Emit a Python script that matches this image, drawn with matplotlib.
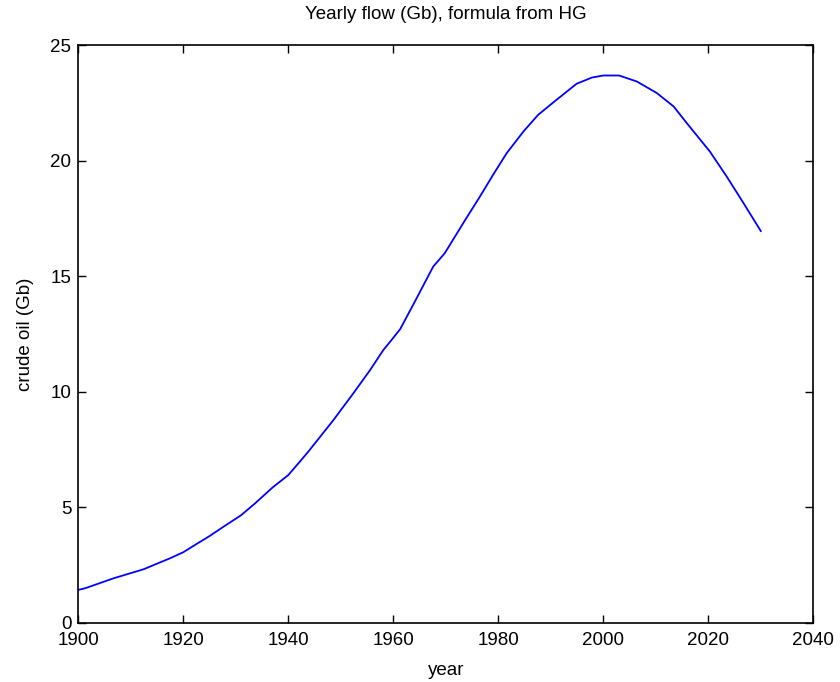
import matplotlib
matplotlib.use("Agg")
import matplotlib.pyplot as plt

years = [1900, 1901.3, 1906.7, 1912.4, 1917.5, 1920, 1922.2, 1925, 1927.9, 1931,
         1933.7, 1937, 1940, 1942.2, 1943.8, 1948.6, 1950, 1952.4, 1955.6, 1958.1,
         1959.4, 1961.3, 1964.0, 1967.6, 1969.8, 1973.7, 1976.5, 1979.0, 1981.6, 1984.8,
         1987.6, 1991.1, 1994.9, 1997.8, 2000, 2003, 2006.4, 2010.2, 2013.4,
         2015.9, 2020.3, 2023.5, 2026.7, 2030]
flow = [1.42, 1.49, 1.92, 2.31, 2.79, 3.05, 3.36, 3.75, 4.19, 4.65,
        5.17, 5.85, 6.39, 6.97, 7.40, 8.77, 9.20, 9.93, 10.94, 11.80,
        12.16, 12.70, 13.85, 15.41, 15.99, 17.43, 18.44, 19.38, 20.32, 21.26,
        21.98, 22.63, 23.32, 23.59, 23.68, 23.68, 23.42, 22.92, 22.34,
        21.62, 20.39, 19.31, 18.16, 16.95]
xticks = [1900, 1920, 1940, 1960, 1980, 2000, 2020, 2040]
yticks = [0, 5, 10, 15, 20, 25]

plt.rcParams['font.family'] = ['Liberation Sans', 'DejaVu Sans']
fig = plt.figure(figsize=(8.4, 6.82), dpi=100)
ax = fig.add_axes([78.3/840, 1 - 622.7/682, (813.3-78.3)/840, (622.7-45)/682])
ax.plot(years, flow, color=(0, 0, 1), lw=1.3)
ax.set_xlim(1900, 2040)
ax.set_ylim(0, 25)
ax.set_xticks(xticks)
ax.set_yticks(yticks)
ax.tick_params(direction='in', top=True, right=True, length=6, width=1.0,
               labelsize=13.5)
ax.tick_params(axis='x', pad=7)
ax.tick_params(axis='y', pad=5)
for s in ax.spines.values():
    s.set_linewidth(1.2)
ax.set_xlabel('year', fontsize=13.5, labelpad=9)
ax.set_ylabel('crude oil (Gb)', fontsize=13.5, labelpad=12)
ax.set_title('Yearly flow (Gb), formula from HG', fontsize=13.5, pad=19)
fig.savefig('out.png', dpi=100)
